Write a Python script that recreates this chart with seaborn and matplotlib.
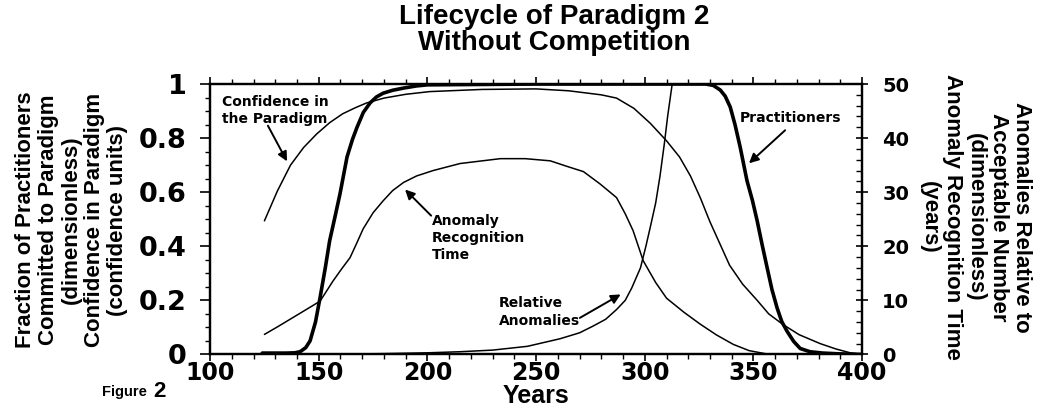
import pandas as pd
import matplotlib.pyplot as plt
import seaborn as sns
from matplotlib.ticker import MultipleLocator

sns.set_style("ticks", {'text.color': 'black', 'axes.labelcolor': 'black',
                        'axes.edgecolor': 'black', 'xtick.color': 'black',
                        'ytick.color': 'black'})
plt.rcParams['font.family'] = ['Liberation Sans', 'DejaVu Sans']
plt.rcParams['font.weight'] = 'bold'

# (years, left scale 0-1, right scale 0-50)
prac_years = [124, 135, 139, 141.4, 144, 146, 148.5, 150.6, 153, 155, 157.5, 159.8, 163, 165.5,
              167.6, 170.5, 173.6, 176.5, 179.6, 184, 189, 195, 200, 250, 300, 328, 331.5,
              334.7, 337, 339.3, 341.5, 343.9, 347, 349.5, 351.7, 354, 356.3, 358.5, 360.9,
              363, 365.5, 368.5, 371.5, 376, 382, 390, 400]
prac_vals = [0.005, 0.005, 0.006, 0.01, 0.025, 0.05, 0.12, 0.21, 0.32, 0.42, 0.51, 0.595, 0.73,
             0.795, 0.84, 0.895, 0.93, 0.952, 0.966, 0.977, 0.985, 0.993, 0.997, 1.0, 1.0, 1.0,
             0.995, 0.978, 0.955, 0.915, 0.85, 0.766, 0.643, 0.57, 0.494, 0.405, 0.32, 0.24,
             0.171, 0.122, 0.085, 0.048, 0.022, 0.01, 0.005, 0.002, 0.0]

conf_years = [125, 131, 137, 143, 149, 155, 161, 167, 172, 180, 190, 201, 225, 250, 265, 280,
              287, 295, 302.5, 310, 316, 321, 325.5, 330, 334.5, 339, 345, 351.7, 357, 363.7,
              371, 380.7, 388, 394.5, 400]
conf_vals = [0.494, 0.605, 0.7, 0.765, 0.815, 0.857, 0.89, 0.913, 0.93, 0.948, 0.962, 0.972,
             0.98, 0.982, 0.975, 0.96, 0.948, 0.91, 0.855, 0.79, 0.73, 0.66, 0.58, 0.49, 0.41,
             0.33, 0.26, 0.2, 0.15, 0.11, 0.073, 0.04, 0.02, 0.006, 0.0]

art_years = [125, 131, 136.8, 143, 150.6, 156.6, 160.5, 164.4, 167.5, 170.4, 175, 179.6, 184,
             189, 195, 202.6, 215, 233.5, 245, 256.5, 264, 271.8, 279.5, 287, 291, 294.6,
             299.3, 305, 310, 318, 325.5, 333, 340.7, 348, 356, 370, 400]
art_vals = [3.7, 5.1, 6.5, 8.0, 9.85, 13.6, 15.8, 17.9, 20.6, 23.2, 26.2, 28.4, 30.3, 31.8,
            33.0, 34.0, 35.3, 36.2, 36.2, 35.8, 34.8, 33.8, 31.5, 29, 26, 22.9, 17.3, 13.3,
            10.4, 7.8, 5.6, 3.6, 1.86, 0.7, 0.1, 0.0, 0.0]

rel_years = [125, 160, 180, 200, 215, 230, 246, 261, 270, 276, 282, 287, 291, 294, 298, 300.5,
             302.5, 305, 307, 309, 310.5, 312.6, 313.5]
rel_vals = [0.0, 0.05, 0.15, 0.3, 0.5, 0.8, 1.5, 2.9, 4.0, 5.2, 6.5, 8.3, 10, 12.3, 16, 20,
            23.5, 28, 33, 39, 44, 50, 53]

x_ticks = [100, 150, 200, 250, 300, 350, 400]
left_ticks = [0, 0.2, 0.4, 0.6, 0.8, 1]
left_labels = ['0', '0.2', '0.4', '0.6', '0.8', '1']
right_ticks = [0, 10, 20, 30, 40, 50]

fig = plt.figure(figsize=(10.4, 4.16), dpi=100)
ax = fig.add_axes([0.202, 0.148, 0.627, 0.650])
ax2 = ax.twinx()

sns.lineplot(x=prac_years, y=prac_vals, ax=ax, color='black', linewidth=2.6,
             estimator=None, sort=False)
sns.lineplot(x=conf_years, y=conf_vals, ax=ax, color='black', linewidth=1.1,
             estimator=None, sort=False)
sns.lineplot(x=art_years, y=art_vals, ax=ax2, color='black', linewidth=1.1,
             estimator=None, sort=False)
sns.lineplot(x=rel_years, y=rel_vals, ax=ax2, color='black', linewidth=1.1,
             estimator=None, sort=False)

ax.set_xlim(100, 400)
ax.set_ylim(0, 1)
ax2.set_ylim(0, 50)

ax.set_xticks(x_ticks)
ax.set_xticklabels([str(t) for t in x_ticks], fontsize=17, fontweight='bold',
                   family='DejaVu Sans')
ax.set_yticks(left_ticks)
ax.set_yticklabels(left_labels, fontsize=19.5, fontweight='bold', family='DejaVu Sans')
ax2.set_yticks(right_ticks)
ax2.set_yticklabels([str(t) for t in right_ticks], fontsize=14, fontweight='bold',
                    family='DejaVu Sans')
ax.xaxis.set_minor_locator(MultipleLocator(10))
ax.yaxis.set_minor_locator(MultipleLocator(0.05))
ax2.yaxis.set_minor_locator(MultipleLocator(2))

ax.tick_params(axis='x', which='both', direction='out', top=True)
ax.tick_params(axis='x', which='major', length=5, pad=0)
ax.tick_params(axis='y', which='both', direction='out', pad=10)
ax.tick_params(axis='y', which='major', length=7)
ax.tick_params(which='major', width=1.2)
ax.tick_params(which='minor', length=3.5, width=1)
ax2.tick_params(which='major', direction='inout', length=9, width=1.2, pad=10)
ax2.tick_params(which='minor', direction='in', length=4, width=1)
for a in (ax, ax2):
    for s in a.spines.values():
        s.set_linewidth(1.6)
        s.set_color('black')
        s.set_visible(True)

ax.set_xlabel('Years', fontsize=18, fontweight='bold', labelpad=-1)
ax.set_ylabel('')
ax2.set_ylabel('')

fig.text(0.069, 0.471, 'Fraction of Practitioners\nCommitted to Paradigm\n(dimensionless)\n'
         'Confidence in Paradigm\n(confidence units)', rotation=90, ha='center', va='center',
         multialignment='center', fontsize=16, fontweight='bold', linespacing=1.12)
fig.text(0.938, 0.478, 'Anomalies Relative to\nAcceptable Number\n(dimensionless)\n'
         'Anomaly Recognition Time\n(years)', rotation=270, ha='center', va='center',
         multialignment='center', fontsize=16, fontweight='bold', linespacing=1.12)
fig.text(0.533, 0.99, 'Lifecycle of Paradigm 2\nWithout Competition', ha='center', va='top',
         fontsize=20, fontweight='bold', linespacing=1.0)
fig.text(0.098, 0.058, 'Figure', fontsize=10.5, fontweight='bold', ha='left', va='center')
fig.text(0.147, 0.058, '2', fontsize=16, fontweight='bold', ha='left', va='center')

arrow = dict(arrowstyle='-|>', color='black', lw=1.4, mutation_scale=14)
ann_font = dict(fontsize=10, fontweight='bold', family='DejaVu Sans')
ax.text(105.5, 0.96, 'Confidence in\nthe Paradigm', va='top', ha='left', linespacing=1.3, **ann_font)
ax.annotate('', xy=(136, 0.705), xytext=(126, 0.855), arrowprops=arrow)
ax.text(202, 0.52, 'Anomaly\nRecognition\nTime', va='top', ha='left', linespacing=1.3, **ann_font)
ax.annotate('', xy=(188.8, 0.617), xytext=(202.6, 0.506), arrowprops=arrow)
ax.text(233, 0.215, 'Relative\nAnomalies', va='top', ha='left', linespacing=1.3, **ann_font)
ax.annotate('', xy=(290, 0.227), xytext=(269, 0.13), arrowprops=arrow)
ax.text(343.5, 0.9, 'Practitioners', va='top', ha='left', **ann_font)
ax.annotate('', xy=(347, 0.70), xytext=(365.5, 0.836), arrowprops=arrow)

fig.savefig('out.png', dpi=100)
